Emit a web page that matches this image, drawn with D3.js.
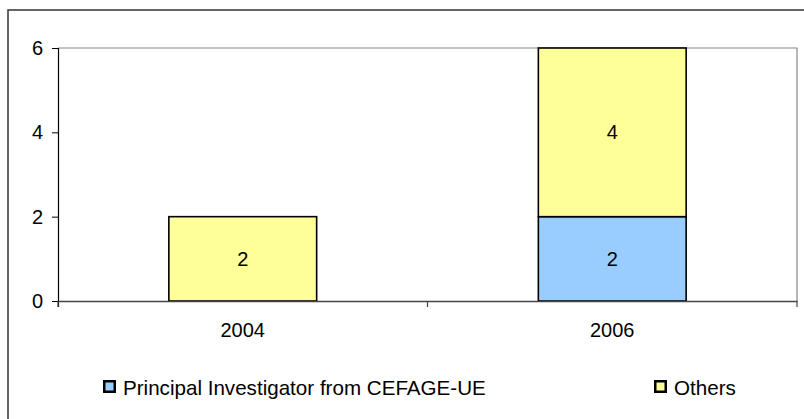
<!DOCTYPE html>
<html>
<head>
<meta charset="utf-8">
<script src="https://cdn.jsdelivr.net/npm/d3@7"></script>
<style>
  body { margin: 0; background: #fff; }
  text { font-family: "Liberation Sans", Arial, sans-serif; fill: #000; }
</style>
</head>
<body>
<svg id="chart" width="804" height="419"></svg>
<script>
// data
const years = ["2004", "2006"];
const investigator = [0, 2];
const others = [2, 4];
const seriesNames = ["Principal Investigator from CEFAGE-UE", "Others"];
const seriesColours = ["#99CCFF", "#FFFF99"];
const yTicks = [0, 2, 4, 6];

const fontSize = 20;
let svg = d3.select("#chart");

let margins = { t: 48, r: 7, b: 118, l: 58 };
let width = 804, height = 419;

// outer frame (only the left/top edges fall inside the picture)
svg.append("rect")
    .attr("x", 8).attr("y", 10)
    .attr("width", 900).attr("height", 900)
    .attr("fill", "none")
    .attr("stroke", "#333")
    .attr("stroke-width", 1.5);

let x = d3.scaleBand()
    .domain(years)
    .range([margins.l, width - margins.r])
    .paddingInner(0.6)
    .paddingOuter(0.3);

let y = d3.scaleLinear()
    .domain([0, 6])
    .range([height - margins.b, margins.t]);

// plot area border (top & right gray)
svg.append("path")
    .attr("d", `M${x.range()[0]},${y(6)}H${x.range()[1]}V${y(0)}`)
    .attr("fill", "none")
    .attr("stroke", "#888")
    .attr("stroke-width", 1.2);

let rows = years.map((yr, i) => ({ year: yr, inv: investigator[i], oth: others[i] }));
let stacked = d3.stack().keys(["inv", "oth"])(rows);

let barGroup = svg.append("g");
stacked.forEach((layer, li) => {
    layer.forEach(seg => {
        if (seg[1] - seg[0] <= 0) return;
        barGroup.append("rect")
            .attr("x", x(seg.data.year))
            .attr("y", y(seg[1]))
            .attr("width", x.bandwidth())
            .attr("height", y(seg[0]) - y(seg[1]))
            .attr("fill", seriesColours[li])
            .attr("stroke", "#000")
            .attr("stroke-width", 1.6);
        barGroup.append("text")
            .attr("x", x(seg.data.year) + x.bandwidth() / 2)
            .attr("y", (y(seg[0]) + y(seg[1])) / 2)
            .attr("dy", "0.35em")
            .attr("text-anchor", "middle")
            .style("font-size", fontSize + "px")
            .text(seg[1] - seg[0]);
    });
});

// y axis
let yAxis = svg.append("g")
    .attr("transform", `translate(${margins.l},0)`)
    .call(d3.axisLeft(y).tickValues(yTicks).tickFormat(d3.format("d")).tickSize(6).tickPadding(9));
yAxis.select(".domain").attr("stroke", "#000").attr("stroke-width", 1.2)
    .attr("d", `M0.5,${y(6)}V${y(0) + 6}`);
yAxis.selectAll(".tick line").attr("stroke", "#000");
yAxis.selectAll(".tick text")
    .style("font-size", fontSize + "px")
    .style("font-family", "'Liberation Sans', Arial, sans-serif");

// x axis: labels under bands, ticks on band boundaries
let xAxis = svg.append("g")
    .attr("transform", `translate(0,${y(0)})`)
    .call(d3.axisBottom(x).tickSize(0).tickPadding(22));
xAxis.select(".domain").attr("stroke", "#444").attr("stroke-width", 1.6);
xAxis.selectAll(".tick text")
    .style("font-size", fontSize + "px")
    .style("font-family", "'Liberation Sans', Arial, sans-serif");
let bounds = [x.range()[0], x.range()[0] + x.step(), x.range()[1]];
xAxis.selectAll(".bound")
    .data(bounds)
    .join("line")
    .attr("class", "bound")
    .attr("x1", d => d).attr("x2", d => d)
    .attr("y1", 0).attr("y2", 6)
    .attr("stroke", "#444")
    .attr("stroke-width", 1.2);

// legend
let legendX = [103, 654];
let legend = svg.append("g");
seriesNames.forEach((name, i) => {
    let g = legend.append("g").attr("transform", `translate(${legendX[i]},380)`);
    g.append("rect")
        .attr("x", 1.25).attr("y", 1.25)
        .attr("width", 10.5).attr("height", 10.5)
        .attr("fill", seriesColours[i])
        .attr("stroke", "#000")
        .attr("stroke-width", 2.5);
    g.append("text")
        .attr("x", 20).attr("y", 14.5)
        .style("font-size", "20.6px")
        .text(name);
});
</script>
</body>
</html>
